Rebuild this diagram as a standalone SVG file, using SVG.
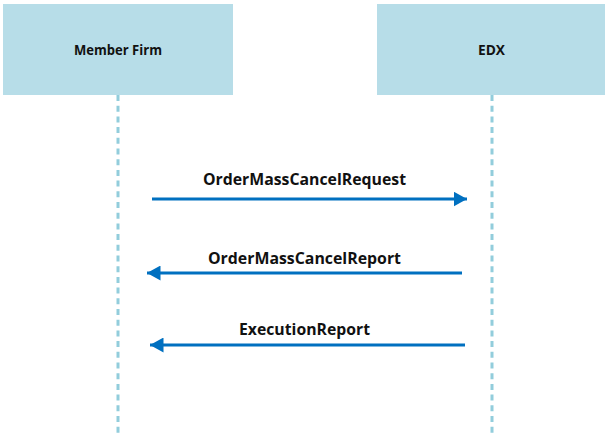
<svg xmlns="http://www.w3.org/2000/svg" width="605" height="434" viewBox="0 0 605 434">
<defs>
<style>
.box{fill:#b7dde8;}
.hdr{font-family:"Open Sans","Liberation Sans",sans-serif;font-weight:bold;font-size:14px;fill:#111;text-anchor:middle;}
.lbl{font-family:"Open Sans","Liberation Sans",sans-serif;font-weight:bold;font-size:16px;fill:#111;text-anchor:middle;}
.life{stroke:#92cddc;stroke-width:3;stroke-dasharray:6 4.7;fill:none;}
.msg{stroke:#0070c0;stroke-width:3;fill:none;}
</style>
<marker id="ah" viewBox="0 0 10 10" refX="9" refY="5" markerWidth="5" markerHeight="5" orient="auto" markerUnits="strokeWidth">
<path d="M0,0 L9,5 L0,10 z" fill="#0070c0"/>
</marker>
</defs>
<rect width="605" height="434" fill="#fff"/>
<g id="member-firm">
<rect class="box" x="3" y="4" width="230" height="91"/>
<text class="hdr" x="118" y="55" textLength="88" lengthAdjust="spacingAndGlyphs">Member Firm</text>
<line class="life" x1="118" y1="95" x2="118" y2="434"/>
</g>
<g id="edx">
<rect class="box" x="377" y="4" width="230" height="91"/>
<text class="hdr" x="491.5" y="55" textLength="27" lengthAdjust="spacingAndGlyphs">EDX</text>
<line class="life" x1="492" y1="95" x2="492" y2="434"/>
</g>
<g id="connectors">
<line class="msg" x1="152" y1="199" x2="467" y2="199" marker-end="url(#ah)"/>
<line class="msg" x1="462" y1="273" x2="147" y2="273" marker-end="url(#ah)"/>
<line class="msg" x1="465" y1="345" x2="150" y2="345" marker-end="url(#ah)"/>
<text class="lbl" x="304.5" y="185" textLength="203" lengthAdjust="spacingAndGlyphs">OrderMassCancelRequest</text>
<text class="lbl" x="304.5" y="264" textLength="193" lengthAdjust="spacingAndGlyphs">OrderMassCancelReport</text>
<text class="lbl" x="304.5" y="335" textLength="131" lengthAdjust="spacingAndGlyphs">ExecutionReport</text>
</g>
</svg>
